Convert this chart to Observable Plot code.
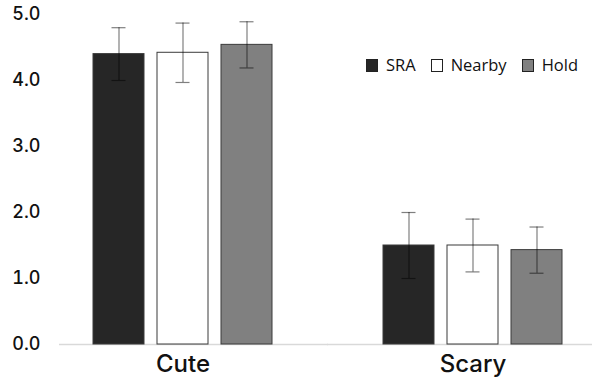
<!DOCTYPE html>
<html>
<head>
<meta charset="utf-8">
<script src="https://cdn.jsdelivr.net/npm/d3@7"></script>
<script src="https://cdn.jsdelivr.net/npm/@observablehq/plot@0.6"></script>
<style>
  body { margin: 0; background: #fff; }
  #wrap { position: relative; width: 592px; height: 380px; }
  .legend { position: absolute; left: 366px; top: 56px; display: flex; align-items: center;
            font-family: "Open Sans", sans-serif; font-size: 16.5px; color: #111; line-height: 18px; }
  .item { display: flex; align-items: center; margin-right: 15px; }
  .swatch { width: 12px; height: 13px; border: 1px solid #222; box-sizing: border-box; margin-right: 8px; }
</style>
</head>
<body>
<div id="wrap"></div>
<script>
// Ratings per stimulus type, for each condition
const categories = ["Cute", "Scary"];
const series = ["SRA", "Nearby", "Hold"];
const cuteMeans = [4.40, 4.42, 4.54];
const cuteErrors = [0.40, 0.45, 0.35];
const scaryMeans = [1.50, 1.50, 1.43];
const scaryErrors = [0.50, 0.40, 0.35];
const yTicks = [0, 1, 2, 3, 4, 5];
const fills = ["#262626", "#ffffff", "#808080"];

const rows = [];
[[cuteMeans, cuteErrors], [scaryMeans, scaryErrors]].forEach(([means, errs], i) => {
  series.forEach((s, j) => {
    rows.push({category: categories[i], series: s, mean: means[j], err: errs[j],
               lo: means[j] - errs[j], hi: means[j] + errs[j]});
  });
});

// baseline pieces, one per facet, stretched so they join into one line
const baseline = (cat, insetLeft, insetRight) =>
  Plot.ruleY([{category: cat, y: 0}], {fx: "category", y: "y", stroke: "#d9d9d9",
    strokeWidth: 1.5, insetLeft, insetRight});

const chart = Plot.plot({
  width: 592,
  height: 380,
  marginTop: 14,
  marginBottom: 36,
  marginLeft: 80,
  marginRight: 18,
  facet: {marginTop: 0, marginBottom: 0, marginLeft: 0, marginRight: 0},
  style: {fontFamily: "Inter, sans-serif", background: "#fff"},
  fx: {domain: categories, paddingInner: 0.3, paddingOuter: 0, label: null,
       axis: "bottom", tickSize: 0, tickPadding: 10},
  x: {domain: series, paddingInner: 0.21, paddingOuter: 0.18, axis: null},
  y: {domain: [0, 5], ticks: yTicks, tickFormat: d3.format(".1f"), tickSize: 0,
      tickPadding: 41, label: null},
  color: {domain: series, range: fills},
  marks: [
    baseline("Cute", -22, -44),
    baseline("Scary", -44, -18),
    Plot.barY(rows, {fx: "category", x: "series", y: "mean", fill: "series",
                     stroke: "#3a3a3a", strokeWidth: 1}),
    Plot.ruleX(rows, {fx: "category", x: "series", y1: "lo", y2: "hi",
                      stroke: "#000", strokeOpacity: 0.5, strokeWidth: 1.2}),
    Plot.tickY(rows, {fx: "category", x: "series", y: "hi", stroke: "#000",
                      strokeOpacity: 0.5, strokeWidth: 1.2, insetLeft: 18.5, insetRight: 18.5}),
    Plot.tickY(rows, {fx: "category", x: "series", y: "lo", stroke: "#000",
                      strokeOpacity: 0.5, strokeWidth: 1.2, insetLeft: 18.5, insetRight: 18.5})
  ]
});

// Axis label styling
d3.select(chart).selectAll("[aria-label='y-axis tick label']")
  .attr("font-size", 18).attr("font-weight", 500).attr("fill", "#111");
d3.select(chart).selectAll("[aria-label='fx-axis tick label']")
  .attr("font-size", 24).attr("font-weight", 500).attr("fill", "#111");

const wrap = document.getElementById("wrap");
wrap.appendChild(chart);

// Legend of the three conditions
const legend = document.createElement("div");
legend.className = "legend";
series.forEach((s, i) => {
  const item = document.createElement("div");
  item.className = "item";
  const sw = document.createElement("span");
  sw.className = "swatch";
  sw.style.background = fills[i];
  const label = document.createElement("span");
  label.textContent = s;
  item.append(sw, label);
  legend.appendChild(item);
});
wrap.appendChild(legend);
</script>
</body>
</html>
